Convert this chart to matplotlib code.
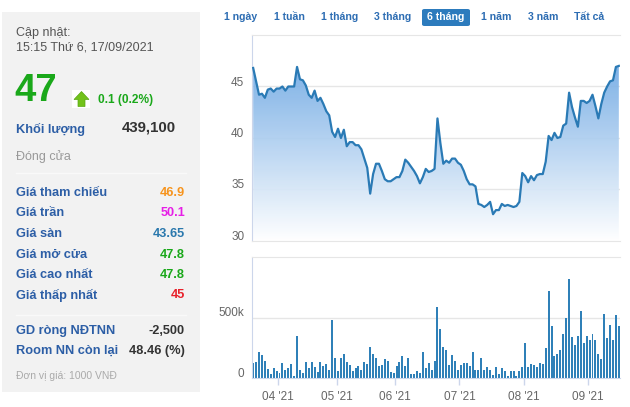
import numpy as np
import pandas as pd
import matplotlib
matplotlib.use('Agg')
import matplotlib.pyplot as plt
import matplotlib.transforms as mtransforms
from matplotlib.patches import FancyBboxPatch, Rectangle, Polygon
from matplotlib.colors import LinearSegmentedColormap

plt.rcParams['font.family'] = ['Liberation Sans', 'DejaVu Sans']

# ---------------- data ----------------
holidays = ['2021-04-21', '2021-04-30', '2021-05-03', '2021-09-02', '2021-09-03']
dates = pd.bdate_range('2021-03-19', '2021-09-17')
dates = dates[~dates.isin(pd.to_datetime(holidays))]

price = [46.8, 45.5, 44.2, 44.3, 43.9, 44.7, 44.8, 44.5, 44.8, 44.8,
         45.0, 44.6, 45.0, 45.0, 45.0, 46.9, 45.7, 45.6, 45.1, 44.2,
         43.9, 44.6, 43.6, 43.9, 43.3, 42.6, 42.2, 40.6, 40.1, 40.9,
         40.0, 40.8, 39.2, 39.6, 39.6, 39.3, 39.3, 38.9, 38.0, 37.1,
         34.6, 36.5, 37.5, 37.5, 36.8, 36.0, 35.8, 35.8, 36.0, 36.2,
         36.2, 36.8, 37.9, 37.6, 37.2, 36.8, 36.3, 35.6, 36.2, 37.0,
         36.7, 36.8, 37.0, 41.9, 39.5, 37.5, 37.8, 37.6, 38.0, 38.0,
         37.6, 37.4, 36.8, 36.0, 35.5, 35.5, 35.3, 33.6, 33.5, 33.3,
         33.5, 33.8, 32.6, 33.0, 33.0, 33.6, 33.4, 33.5, 33.4, 33.3,
         33.4, 33.8, 36.6, 36.3, 35.7, 36.3, 35.9, 36.4, 36.5, 36.5,
         37.7, 40.2, 39.8, 40.5, 40.0, 40.1, 41.2, 41.4, 44.4, 43.0,
         42.0, 41.1, 43.6, 43.6, 43.4, 43.6, 44.2, 43.1, 41.9, 43.3,
         44.4, 45.0, 45.5, 45.6, 46.9, 47.0]

volume_k = [126, 135, 219, 191, 140, 73, 31, 79, 59, 45,
            121, 65, 84, 112, 14, 351, 65, 45, 135, 79,
            129, 87, 51, 129, 98, 112, 70, 480, 169, 56,
            163, 199, 129, 107, 56, 84, 96, 65, 135, 118,
            256, 199, 163, 98, 104, 154, 143, 51, 42, 98,
            135, 183, 98, 163, 31, 31, 59, 40,
            219, 79, 121, 70, 140, 584, 407, 253, 233, 107,
            191, 143, 70, 107, 126, 126, 96, 216, 65, 70,
            169, 70, 87, 70, 22, 87, 31, 79, 59, 14,
            56, 56, 17, 59, 87, 289, 87, 112, 104, 87,
            121, 112, 247, 716, 430, 183, 199, 233, 365, 500,
            817, 340, 275, 345, 556, 289, 345, 317, 365, 317,
            199, 154, 528, 331, 435, 317, 520, 430]

price_ticks = [30, 35, 40, 45]
price_tick_labels = ['30', '35', '40', '45']
vol_ticks = [0, 500000]
vol_tick_labels = ['0', '500k']
range_buttons = ['1 ngày', '1 tuần', '1 tháng', '3 tháng', '6 tháng', '1 năm', '3 năm', 'Tất cả']
active_button = '6 tháng'

info_rows = [('Giá tham chiếu', '46.9', '#f7941d'),
             ('Giá trần', '50.1', '#e61ee6'),
             ('Giá sàn', '43.65', '#2a78ad'),
             ('Giá mở cửa', '47.8', '#1aa81a'),
             ('Giá cao nhất', '47.8', '#1aa81a'),
             ('Giá thấp nhất', '45', '#e8202a')]
foreign_rows = [('GD ròng NĐTNN', '-2,500'), ('Room NN còn lại', '48.46 (%)')]

# ---------------- figure ----------------
W, H = 630, 407
fig = plt.figure(figsize=(6.3, 4.07), dpi=100)
fig.patch.set_facecolor('white')


def fx(px):
    return px / W


def fy(py):
    return 1 - py / H


label_blue = '#2c5ea6'
dark = '#333333'
green = '#1aa81a'

# left info panel
fig.patches.append(Rectangle((fx(2), fy(392)), fx(200) - fx(2), (392 - 12) / H,
                             transform=fig.transFigure, facecolor='#f2f2f2',
                             edgecolor='none', zorder=0))
fig.text(fx(16), fy(33), 'Cập nhật:', fontsize=9, color='#555555', va='center')
fig.text(fx(16), fy(48), '15:15 Thứ 6, 17/09/2021', fontsize=9, color='#555555', va='center')
fig.text(fx(14), fy(91), '47', fontsize=27.5, color=green, fontweight='bold', va='center')

# up arrow with white backing
fig.patches.append(Rectangle((fx(72), fy(108)), fx(18), 18 / H, transform=fig.transFigure,
                             facecolor='white', edgecolor='none', zorder=1))
arrow = [(81.5, 91.5), (89, 99.5), (85, 99.5), (85, 106.5), (78, 106.5), (78, 99.5), (74, 99.5)]
fig.patches.append(Polygon([(fx(a), fy(b)) for a, b in arrow], closed=True,
                           transform=fig.transFigure, facecolor='#72c21b',
                           edgecolor='#5aa814', lw=0.5, zorder=2))
fig.text(fx(98.5), fy(100), '0.1 (0.2%)', fontsize=8.6, color=green, fontweight='bold', va='center')

fig.text(fx(16), fy(129), 'Khối lượng', fontsize=9.2, color=label_blue, fontweight='bold', va='center')
fig.text(fx(176), fy(128), '439,100', fontsize=10.8, color=dark, fontweight='bold',
         va='center', ha='right')
fig.text(fx(16), fy(157), 'Đóng cửa', fontsize=9, color='#999999', va='center')

for yy in (173, 315):
    fig.lines.append(plt.Line2D([fx(16), fx(186)], [fy(yy), fy(yy)], transform=fig.transFigure,
                                color='#f9f9f9', lw=1.0))

row_y = [193, 213.5, 234, 254.5, 275, 295.5]
for (lab, val, col), yy in zip(info_rows, row_y):
    fig.text(fx(16), fy(yy), lab, fontsize=9.2, color=label_blue, fontweight='bold', va='center')
    fig.text(fx(185), fy(yy), val, fontsize=9.2, color=col, fontweight='bold', va='center', ha='right')

for (lab, val), yy in zip(foreign_rows, [331, 351]):
    fig.text(fx(16), fy(yy), lab, fontsize=9.2, color=label_blue, fontweight='bold', va='center')
    fig.text(fx(185), fy(yy), val, fontsize=9.2, color=dark, fontweight='bold', va='center', ha='right')
fig.text(fx(16), fy(376), 'Đơn vị giá: 1000 VNĐ', fontsize=7.5, color='#aaaaaa', va='center')

# range buttons
btn_x = [241, 289.5, 340, 392.5, 446, 496, 543, 589]
for lab, bx in zip(range_buttons, btn_x):
    if lab == active_button:
        fig.patches.append(FancyBboxPatch((fx(422), fy(26)), fx(48), 17 / H,
                                          boxstyle='round,pad=0,rounding_size=0.004',
                                          transform=fig.transFigure, facecolor='#2c7bbd',
                                          edgecolor='none', zorder=1))
        fig.text(fx(bx), fy(17.5), lab, fontsize=7.6, color='white', fontweight='bold',
                 ha='center', va='center', zorder=3)
    else:
        fig.text(fx(bx), fy(17.5), lab, fontsize=7.6, color='#2d6db3', fontweight='bold',
                 ha='center', va='center')

# ---------------- price axes ----------------
x = np.arange(len(price))
line_color = '#2a7ab5'
grid_color = '#e6e6e6'
axis_color = '#ccd6eb'
tick_label_color = '#666666'
xlim = (-0.4, len(price) - 0.6)

ax1 = fig.add_axes([fx(252), fy(241), fx(620) - fx(252), (241 - 35) / H])
for v in price_ticks[1:]:
    ax1.axhline(v, color=grid_color, lw=1, zorder=0)
poly = Polygon(np.column_stack([np.r_[x[0], x, x[-1]], np.r_[30, price, 30]]),
               closed=True, facecolor='none', edgecolor='none')
ax1.add_patch(poly)
cmap = LinearSegmentedColormap.from_list('g', ['#ffffff', '#5a9ce0'])
grad = np.linspace(0, 1, 256).reshape(-1, 1)
im = ax1.imshow(grad, aspect='auto', cmap=cmap, extent=[x[0], x[-1], 30, 50],
                origin='lower', zorder=1, alpha=0.92)
im.set_clip_path(poly)
ax1.plot(x, price, color=line_color, lw=1.6, zorder=3, solid_joinstyle='round')
ax1.set_xlim(*xlim)
ax1.set_ylim(30, 50)
ax1.set_xticks([])
ax1.set_yticks(price_ticks)
ax1.set_yticklabels(price_tick_labels)
ax1.tick_params(axis='y', length=0, pad=5.5, labelsize=8.5, labelcolor=tick_label_color)
ax1.spines['right'].set_visible(False)
ax1.spines['top'].set_color(grid_color)
ax1.spines['bottom'].set_color(grid_color)
ax1.spines['left'].set_color(axis_color)
off = mtransforms.ScaledTranslation(0, 5.5 / 100, fig.dpi_scale_trans)
for lbl in ax1.get_yticklabels():
    lbl.set_transform(lbl.get_transform() + off)

# ---------------- volume axes ----------------
ax2 = fig.add_axes([fx(252), fy(378), fx(620) - fx(252), (378 - 257) / H])
ax2.axhline(vol_ticks[1], color=grid_color, lw=1, zorder=0)
ax2.bar(x, np.array(volume_k) * 1000, width=0.68, color='#2f80b8', zorder=2)
ax2.set_xlim(*xlim)
ax2.set_ylim(0, 1000000)
ax2.set_yticks(vol_ticks)
ax2.set_yticklabels(vol_tick_labels)
ax2.tick_params(axis='y', length=0, pad=5.5, labelsize=8.5, labelcolor=tick_label_color)
for lbl in ax2.get_yticklabels():
    lbl.set_transform(lbl.get_transform() + off)

month_pos, month_lab = [], []
for m in range(4, 10):
    idx = np.where(dates.month == m)[0][0]
    month_pos.append(idx - 0.5)
    month_lab.append(dates[idx].strftime("%m '%y"))
ax2.set_xticks(month_pos)
ax2.set_xticklabels(month_lab)
ax2.tick_params(axis='x', length=5, width=1, color=axis_color, pad=4,
                labelsize=8.5, labelcolor=tick_label_color)
ax2.spines['right'].set_visible(False)
ax2.spines['top'].set_color(grid_color)
ax2.spines['bottom'].set_color(axis_color)
ax2.spines['left'].set_color(axis_color)

fig.savefig('out.png', dpi=100)
